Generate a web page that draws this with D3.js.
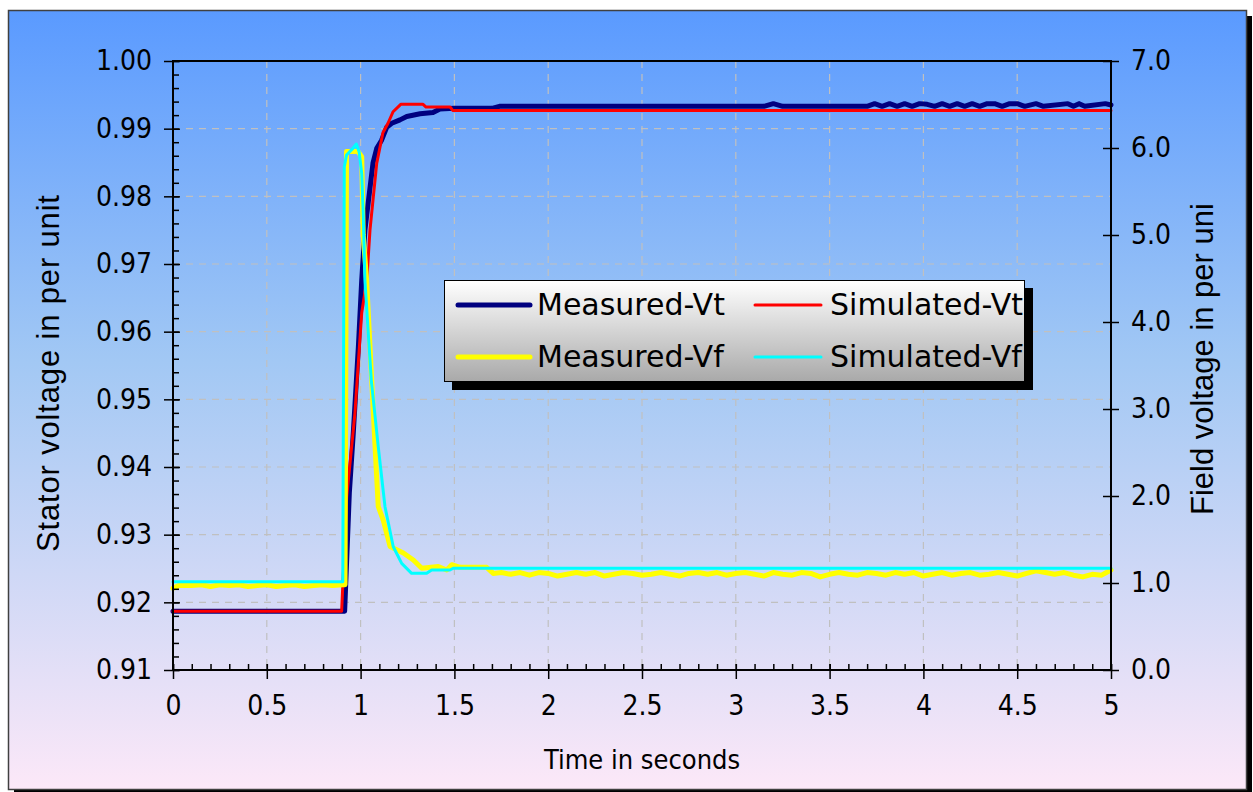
<!DOCTYPE html>
<html>
<head>
<meta charset="utf-8">
<script src="https://cdn.jsdelivr.net/npm/d3@7"></script>
<style>
  body { margin: 0; background: #fff; }
  svg { display: block; }
  text { font-family: "DejaVu Sans", sans-serif; font-stretch: condensed; }
</style>
</head>
<body>
<div id="chart"></div>
<script>
// Series: [time in s, value]
const measuredVt = [
  [0, 0.9187], [0.5, 0.9187], [0.915, 0.9187], [0.94, 0.9362], [0.961, 0.945],
  [0.988, 0.9577], [1.006, 0.9676], [1.023, 0.975], [1.066, 0.9849], [1.086, 0.9871],
  [1.112, 0.9883], [1.139, 0.9902], [1.166, 0.9908], [1.21, 0.9913], [1.246, 0.9918],
  [1.317, 0.9922], [1.386, 0.9924], [1.423, 0.9929], [1.5, 0.993], [1.7, 0.993],
  [1.74, 0.9933], [2.5, 0.9933], [3.15, 0.9933], [3.2, 0.9937], [3.25, 0.9933],
  [3.7, 0.9933], [3.74, 0.9937], [3.78, 0.9933], [3.82, 0.9937], [3.86, 0.9933],
  [3.9, 0.9937], [3.94, 0.9933], [3.98, 0.9937], [4.02, 0.9936], [4.06, 0.9933],
  [4.1, 0.9937], [4.14, 0.9933], [4.18, 0.9937], [4.22, 0.9933], [4.26, 0.9937],
  [4.3, 0.9933], [4.34, 0.9937], [4.38, 0.9937], [4.42, 0.9933], [4.46, 0.9937],
  [4.5, 0.9937], [4.54, 0.9933], [4.6, 0.9937], [4.64, 0.9933], [4.77, 0.9937],
  [4.8, 0.9933], [4.83, 0.9937], [4.86, 0.9933], [4.97, 0.9937], [5, 0.9935]
];

const simulatedVt = [
  [0, 0.9187], [0.899, 0.9187], [0.926, 0.9356], [0.97, 0.948], [1.006, 0.9628],
  [1.033, 0.9676], [1.05, 0.975], [1.086, 0.9849], [1.119, 0.9894], [1.146, 0.9908],
  [1.173, 0.9925], [1.214, 0.9936], [1.333, 0.9936], [1.349, 0.9932], [1.477, 0.9932],
  [1.491, 0.9927], [5, 0.9927]
];

const measuredVf = [
  [0, 0.94], [0.03, 0.97], [0.1, 0.97], [0.15, 0.98], [0.2, 0.96], [0.25, 0.98],
  [0.3, 0.97], [0.35, 0.98], [0.4, 0.96], [0.45, 0.97], [0.5, 0.98], [0.55, 0.96],
  [0.6, 0.97], [0.65, 0.98], [0.7, 0.96], [0.75, 0.97], [0.8, 0.98], [0.85, 0.97],
  [0.905, 0.98], [0.917, 0.98], [0.925, 5.96], [0.986, 5.96], [1.006, 5.9],
  [1.014, 5.0], [1.032, 4.48], [1.05, 3.72], [1.077, 2.57], [1.094, 1.88],
  [1.121, 1.72], [1.157, 1.42], [1.228, 1.345], [1.281, 1.264], [1.326, 1.17],
  [1.414, 1.19], [1.459, 1.15], [1.486, 1.21], [1.53, 1.18], [1.672, 1.18],
  [1.707, 1.11], [1.75, 1.12], [1.8, 1.10], [1.85, 1.12], [1.9, 1.09], [1.95, 1.12],
  [2.0, 1.11], [2.05, 1.08], [2.1, 1.10], [2.15, 1.12], [2.2, 1.10], [2.25, 1.12],
  [2.3, 1.08], [2.35, 1.10], [2.4, 1.12], [2.45, 1.11], [2.5, 1.09], [2.55, 1.10],
  [2.6, 1.12], [2.65, 1.10], [2.7, 1.08], [2.75, 1.11], [2.8, 1.12], [2.85, 1.10],
  [2.9, 1.12], [2.95, 1.09], [3.0, 1.11], [3.05, 1.12], [3.1, 1.10], [3.15, 1.08],
  [3.2, 1.12], [3.25, 1.10], [3.3, 1.09], [3.35, 1.12], [3.4, 1.11], [3.45, 1.07],
  [3.5, 1.10], [3.55, 1.12], [3.6, 1.10], [3.65, 1.09], [3.7, 1.12], [3.75, 1.11],
  [3.8, 1.09], [3.85, 1.12], [3.9, 1.10], [3.95, 1.12], [4.0, 1.08], [4.05, 1.10],
  [4.1, 1.12], [4.15, 1.09], [4.2, 1.11], [4.25, 1.12], [4.3, 1.09], [4.35, 1.10],
  [4.4, 1.12], [4.45, 1.10], [4.5, 1.08], [4.55, 1.11], [4.6, 1.14], [4.65, 1.12],
  [4.7, 1.10], [4.75, 1.12], [4.8, 1.09], [4.85, 1.07], [4.9, 1.10], [4.95, 1.09],
  [5.0, 1.15]
];

const simulatedVf = [
  [0, 1.015], [0.905, 1.015], [0.913, 5.785], [0.925, 5.92], [0.959, 5.996],
  [0.977, 6.046], [0.992, 5.957], [1.006, 5.709], [1.014, 5.249], [1.023, 4.48],
  [1.057, 3.33], [1.094, 2.567], [1.13, 1.877], [1.174, 1.417], [1.219, 1.226],
  [1.272, 1.111], [1.352, 1.111], [1.379, 1.149], [1.476, 1.149], [1.494, 1.17],
  [5, 1.17]
];

// Tick values
const timeTicks = [0, 0.5, 1, 1.5, 2, 2.5, 3, 3.5, 4, 4.5, 5];
const statorTicks = [0.91, 0.92, 0.93, 0.94, 0.95, 0.96, 0.97, 0.98, 0.99, 1.00];
const fieldTicks = [0, 1, 2, 3, 4, 5, 6, 7];

// Legend entries
const legendNames = ["Measured-Vt", "Simulated-Vt", "Measured-Vf", "Simulated-Vf"];
const legendColors = ["#000080", "#ff0000", "#ffff00", "#00ffff"];
const legendWidths = [5, 3, 5, 3];

const width = 1253, height = 792;
const margin = { top: 61, left: 173, right: 142, bottom: 122 };

const svg = d3.select("#chart")
  .append("svg")
  .attr("width", width)
  .attr("height", height);

const defs = svg.append("defs");

const bg = defs.append("linearGradient")
  .attr("id", "bg").attr("x1", 0).attr("y1", 0).attr("x2", 0).attr("y2", 1);
bg.append("stop").attr("offset", "0%").attr("stop-color", "#5a9aff");
bg.append("stop").attr("offset", "45%").attr("stop-color", "#a2c8f4");
bg.append("stop").attr("offset", "100%").attr("stop-color", "#fce8f8");

const lg = defs.append("linearGradient")
  .attr("id", "legbg").attr("x1", 0).attr("y1", 0).attr("x2", 0).attr("y2", 1);
lg.append("stop").attr("offset", "0%").attr("stop-color", "#ffffff");
lg.append("stop").attr("offset", "100%").attr("stop-color", "#a9a9a9");

// the right title is cut off at the top in the original
defs.append("clipPath").attr("id", "rtclip")
  .append("rect").attr("x", 1150).attr("y", 203).attr("width", 100).attr("height", 500);

// Chart area with shadow
svg.append("rect")
  .attr("x", 14).attr("y", 16).attr("width", 1238).attr("height", 780)
  .attr("fill", "#000");
svg.append("rect")
  .attr("x", 8.5).attr("y", 10.5).attr("width", 1238).attr("height", 779)
  .attr("fill", "url(#bg)")
  .attr("stroke", "#404040").attr("stroke-width", 1.5);

// Scales
const x = d3.scaleLinear().domain([0, 5]).range([margin.left, width - margin.right]);
const yL = d3.scaleLinear().domain([0.91, 1.00]).range([height - margin.bottom, margin.top]);
const yR = d3.scaleLinear().domain([0, 7]).range([height - margin.bottom, margin.top]);

// Gridlines
svg.append("g")
  .selectAll("line")
  .data(statorTicks.slice(1, -1))
  .enter()
  .append("line")
  .attr("x1", margin.left).attr("x2", width - margin.right)
  .attr("y1", d => yL(d)).attr("y2", d => yL(d))
  .attr("stroke", "#c0c0c0").attr("stroke-width", 1.2)
  .attr("stroke-dasharray", "7,6");

svg.append("g")
  .selectAll("line")
  .data(timeTicks.slice(1, -1))
  .enter()
  .append("line")
  .attr("x1", d => x(d)).attr("x2", d => x(d))
  .attr("y1", margin.top).attr("y2", height - margin.bottom)
  .attr("stroke", "#c0c0c0").attr("stroke-width", 1.2)
  .attr("stroke-dasharray", "7,6");

// Lines
const lineL = d3.line().x(d => x(d[0])).y(d => yL(d[1]));
const lineR = d3.line().x(d => x(d[0])).y(d => yR(d[1]));

const series = [
  { data: measuredVt, gen: lineL },
  { data: simulatedVt, gen: lineL },
  { data: measuredVf, gen: lineR },
  { data: simulatedVf, gen: lineR }
];

series.forEach(function(s, i) {
  svg.append("path")
    .datum(s.data)
    .attr("d", s.gen)
    .attr("fill", "none")
    .attr("stroke", legendColors[i])
    .attr("stroke-width", legendWidths[i])
    .attr("stroke-linejoin", "round")
    .attr("stroke-linecap", "round");
});

// Plot frame
svg.append("rect")
  .attr("x", margin.left).attr("y", margin.top)
  .attr("width", width - margin.left - margin.right)
  .attr("height", height - margin.top - margin.bottom)
  .attr("fill", "none").attr("stroke", "#000").attr("stroke-width", 2);

// Axes
function styleAxis(g) {
  g.select(".domain").remove();
  g.selectAll("line").attr("stroke", "#000").attr("stroke-width", 1.5);
  g.selectAll("text")
    .attr("fill", "#000")
    .style("font-size", "28px");
}

const minorX = d3.range(0, 51).map(d => d / 10);
const minorY = d3.range(0, 46).map(d => 0.91 + d * 0.002);

svg.append("g")
  .attr("transform", `translate(0,${height - margin.bottom})`)
  .call(d3.axisBottom(x).tickValues(minorX).tickSize(-6).tickFormat(""))
  .call(styleAxis);

svg.append("g")
  .attr("transform", `translate(${margin.left},0)`)
  .call(d3.axisLeft(yL).tickValues(minorY).tickSize(-6).tickFormat(""))
  .call(styleAxis);

svg.append("g")
  .attr("transform", `translate(0,${height - margin.bottom})`)
  .call(d3.axisBottom(x).tickValues(timeTicks).tickSize(9).tickPadding(16)
    .tickFormat(d3.format("")))
  .call(styleAxis)
  .selectAll("line").attr("y1", -6);

svg.append("g")
  .attr("transform", `translate(${margin.left},0)`)
  .call(d3.axisLeft(yL).tickValues(statorTicks).tickSize(9).tickPadding(12)
    .tickFormat(d3.format(".2f")))
  .call(styleAxis)
  .selectAll("line").attr("x1", 7);

svg.append("g")
  .attr("transform", `translate(${width - margin.right},0)`)
  .call(d3.axisRight(yR).tickValues(fieldTicks).tickSize(8).tickPadding(12)
    .tickFormat(d3.format(".1f")))
  .call(styleAxis)
  .selectAll("line").attr("x1", -8);

// Axis titles
svg.append("text")
  .attr("transform", "rotate(-90)")
  .attr("x", -373.5).attr("y", 59)
  .attr("text-anchor", "middle")
  .attr("textLength", 357)
  .style("font-family", "'Liberation Sans', Arial, sans-serif")
  .style("font-stretch", "normal")
  .style("font-size", "31px")
  .text("Stator voltage in per unit");

svg.append("text")
  .attr("x", 642).attr("y", 769)
  .attr("text-anchor", "middle")
  .style("font-size", "27px")
  .text("Time in seconds");

svg.append("g")
  .attr("clip-path", "url(#rtclip)")
  .append("text")
  .attr("transform", "rotate(-90)")
  .attr("x", -515).attr("y", 1213)
  .attr("text-anchor", "start")
  .style("font-family", "'Liberation Sans', Arial, sans-serif")
  .style("font-stretch", "normal")
  .style("font-size", "31px")
  .text("Field voltage in per unit");

// Legend
const legend = svg.append("g");
legend.append("rect")
  .attr("x", 452).attr("y", 288).attr("width", 581).attr("height", 102)
  .attr("fill", "#000");
legend.append("rect")
  .attr("x", 444.5).attr("y", 280.5).attr("width", 580).attr("height", 101)
  .attr("fill", "url(#legbg)")
  .attr("stroke", "#000").attr("stroke-width", 1);

const legendPos = [
  { lx: 458, tx: 537, y: 305 },
  { lx: 755, tx: 830, y: 305 },
  { lx: 458, tx: 537, y: 357 },
  { lx: 755, tx: 830, y: 357 }
];

legendNames.forEach(function(name, i) {
  const p = legendPos[i];
  legend.append("line")
    .attr("x1", p.lx).attr("x2", p.lx + (i % 2 ? 66 : 72))
    .attr("y1", p.y).attr("y2", p.y)
    .attr("stroke", legendColors[i])
    .attr("stroke-width", legendWidths[i])
    .attr("stroke-linecap", "round");
  legend.append("text")
    .attr("x", p.tx).attr("y", p.y + 10)
    .style("font-stretch", "normal")
    .style("font-size", "30px")
    .text(name);
});
</script>
</body>
</html>
